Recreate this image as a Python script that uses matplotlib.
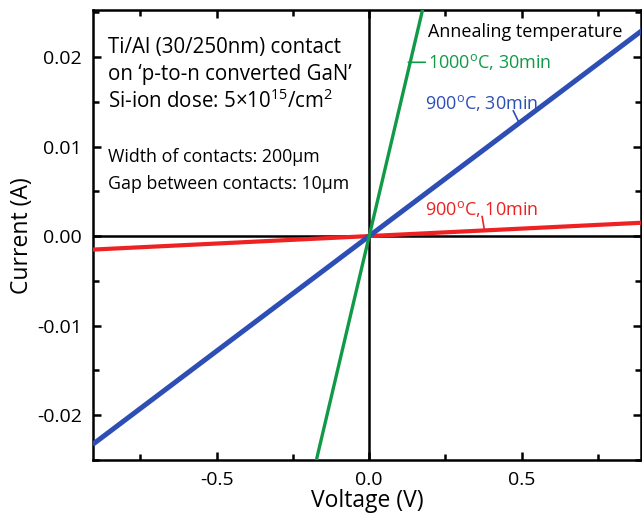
import numpy as np
import matplotlib
matplotlib.use("Agg")
import matplotlib.pyplot as plt
from matplotlib.ticker import MultipleLocator

plt.rcParams['font.family'] = ['Open Sans', 'DejaVu Sans']
plt.rcParams['mathtext.fontset'] = 'custom'
plt.rcParams['mathtext.rm'] = 'Open Sans'
plt.rcParams['mathtext.it'] = 'Open Sans'

# I-V data (voltage sweep endpoints, currents)
voltage = [-0.9, 0.9]
cur_900_10 = [-0.0015, 0.0015]
cur_900_30 = [-0.0231, 0.0231]
cur_1000_30 = [-0.130, 0.130]

labels = ["900$^{\\mathrm{o}}$C, 10min", "900$^{\\mathrm{o}}$C, 30min",
          "1000$^{\\mathrm{o}}$C, 30min"]
colors = ["#ee2222", "#2d4fb5", "#109a48"]

fig = plt.figure(figsize=(6.42, 5.18), dpi=100)
ax = fig.add_axes([0.145, 0.112, 0.854, 0.868])

ax.axhline(0, color='black', lw=1.8, zorder=1)
ax.axvline(0, color='black', lw=1.8, zorder=1)

ax.plot(voltage, cur_900_10, color=colors[0], lw=3.0, zorder=3)
ax.plot(voltage, cur_900_30, color=colors[1], lw=3.6, zorder=3)
ax.plot(voltage, cur_1000_30, color=colors[2], lw=2.4, zorder=3)

ax.set_xlim(-0.905, 0.892)
ax.set_ylim(-0.025, 0.0252)
ax.xaxis.set_major_locator(MultipleLocator(0.5))
ax.xaxis.set_minor_locator(MultipleLocator(0.25))
ax.yaxis.set_major_locator(MultipleLocator(0.01))
ax.yaxis.set_minor_locator(MultipleLocator(0.005))
ax.xaxis.set_major_formatter(plt.FuncFormatter(lambda v, p: "%.1f" % v))
ax.yaxis.set_major_formatter(plt.FuncFormatter(lambda v, p: "%.2f" % v))
ax.tick_params(which='both', direction='in', top=True, right=True,
               width=1.8, labelsize=14, colors='black')
ax.tick_params(which='major', length=6, pad=8)
ax.tick_params(which='minor', length=4)
for s in ax.spines.values():
    s.set_linewidth(1.8)

ax.set_xlabel("Voltage (V)", fontsize=16.5, labelpad=0)
ax.set_ylabel("Current (A)", fontsize=16.5, labelpad=2)

# description text
ax.text(-0.856, 0.0210, "Ti/Al (30/250nm) contact", fontsize=14.8, va='center')
ax.text(-0.856, 0.0180, "on \u2018p-to-n converted GaN\u2019", fontsize=14.8, va='center')
ax.text(-0.856, 0.0151, "Si-ion dose: 5\u00d710$^{15}$/cm$^{2}$", fontsize=14.8, va='center')
ax.text(-0.856, 0.0088, "Width of contacts: 200\u00b5m", fontsize=12.8, va='center')
ax.text(-0.856, 0.0058, "Gap between contacts: 10\u00b5m", fontsize=12.8, va='center')

ax.text(0.193, 0.0228, "Annealing temperature", fontsize=13, va='center')
ax.annotate(labels[2], xy=(0.128, 0.0194), xytext=(0.193, 0.0194), va='center',
            fontsize=13, color=colors[2],
            arrowprops=dict(arrowstyle='-', color=colors[2], lw=1.2, shrinkA=0, shrinkB=0))
ax.text(0.184, 0.0149, labels[1], fontsize=13, va='center', color=colors[1])
ax.annotate("", xy=(0.492, 0.0126), xytext=(0.472, 0.0140),
            arrowprops=dict(arrowstyle='-', color=colors[1], lw=1.2, shrinkA=0, shrinkB=0))
ax.text(0.184, 0.0030, labels[0], fontsize=13, va='center', color=colors[0])
ax.annotate("", xy=(0.377, 0.0008), xytext=(0.370, 0.0022),
            arrowprops=dict(arrowstyle='-', color=colors[0], lw=1.2, shrinkA=0, shrinkB=0))

fig.savefig("out.png", dpi=100)
